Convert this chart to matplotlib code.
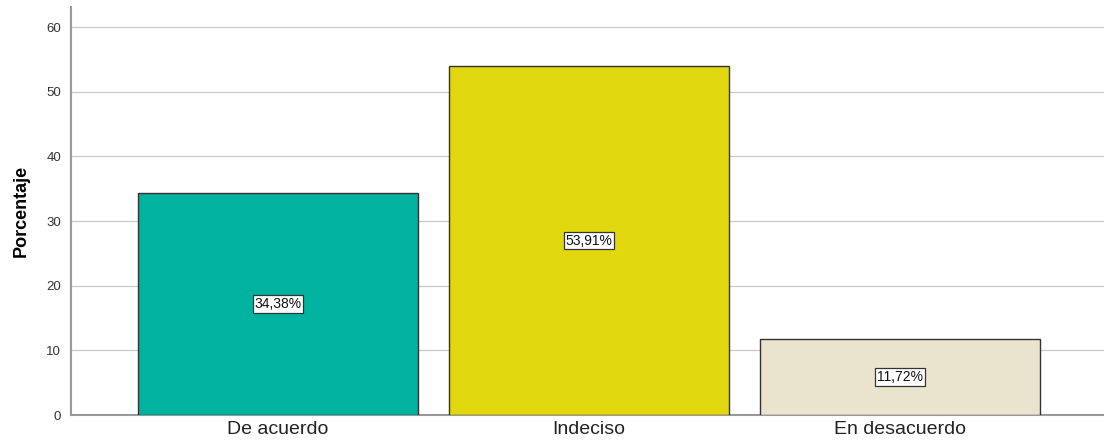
import matplotlib
matplotlib.use("Agg")
import matplotlib.pyplot as plt
from matplotlib import font_manager
import numpy as np

plt.rcParams['font.family'] = ['Liberation Sans', 'DejaVu Sans']

# data
categories = ["De acuerdo", "Indeciso", "En desacuerdo"]
values = [34.38, 53.91, 11.72]
colors = ["#00B2A0", "#E1D70E", "#EAE4CF"]
yticks = [0, 10, 20, 30, 40, 50, 60]

installed = {f.name for f in font_manager.fontManager.ttflist}
label_family = 'Liberation Sans Narrow' if 'Liberation Sans Narrow' in installed else 'Liberation Sans'

fig = plt.figure(figsize=(11.04, 4.44), dpi=100)
ax = fig.add_axes([0.0643, 0.0653, 0.9357, 0.919])

x = np.arange(len(categories))
ax.bar(x, values, width=0.9, color=colors, edgecolor="#333333", linewidth=1.0, zorder=3)

for xi, v in zip(x, values):
    ax.text(xi, v / 2, f"{v:.2f}%".replace(".", ","), ha="center", va="center",
            fontsize=10, color="#111111", zorder=4,
            bbox=dict(boxstyle="square,pad=0.12", facecolor="white", edgecolor="#333333", linewidth=0.9))

ax.set_xlim(-0.666, 2.656)
ax.set_ylim(0, 63.1)
ax.set_yticks(yticks)
ax.set_xticks(x)
ax.set_xticklabels(categories, fontsize=14, color="#222222")
ax.tick_params(axis="y", labelsize=9.5, labelcolor="#333333", length=0, pad=7)
ax.tick_params(axis="x", length=0, pad=4)
ax.yaxis.grid(True, color="#C8C8C8", linewidth=0.9, zorder=0)
ax.set_ylabel("Porcentaje", fontsize=13, fontweight="bold", family=label_family, labelpad=12)

for s in ["top", "right"]:
    ax.spines[s].set_visible(False)
ax.spines["left"].set_color("#999999")
ax.spines["left"].set_linewidth(1.5)
ax.spines["bottom"].set_color("#999999")
ax.spines["bottom"].set_linewidth(1.5)

fig.savefig("out.png", dpi=100)
